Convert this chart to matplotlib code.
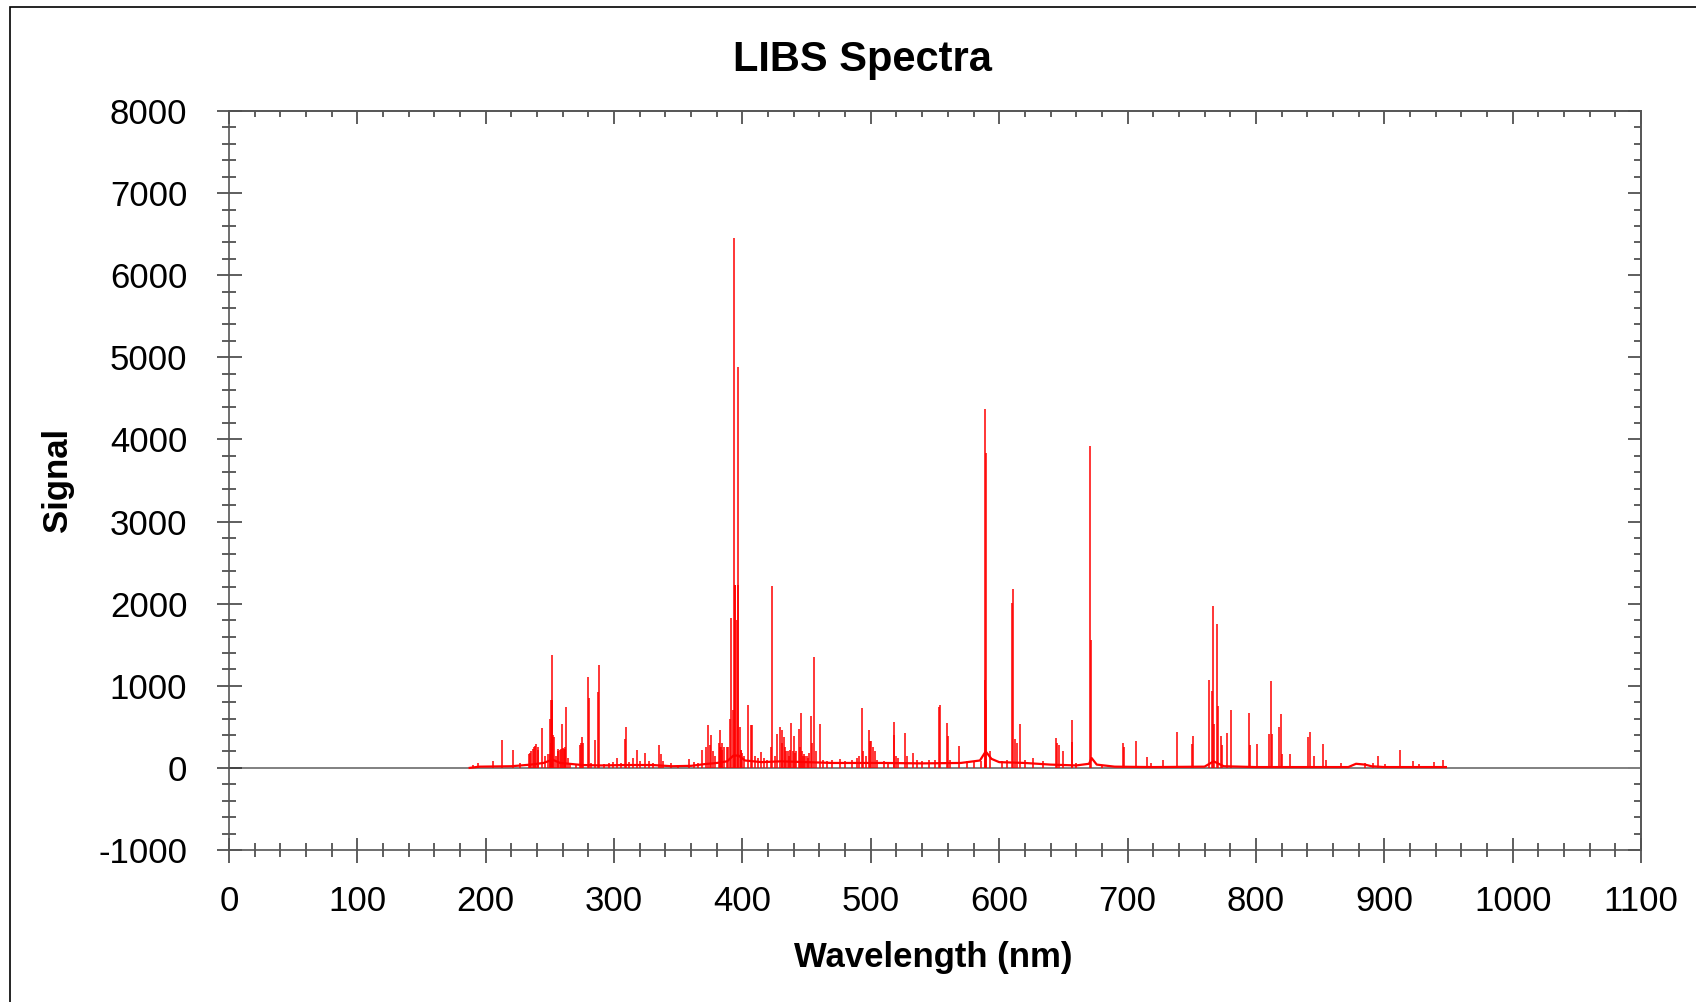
import numpy as np
import matplotlib
matplotlib.use('Agg')
import matplotlib.pyplot as plt
from matplotlib.ticker import MultipleLocator
from matplotlib.patches import Rectangle

plt.rcParams['font.family'] = ['Liberation Sans', 'DejaVu Sans']
plt.rcParams['axes.unicode_minus'] = False

# emission lines: wavelength (nm) and peak signal
uv_wl = [190.1, 194, 205.7, 212.5, 221.3, 226.5, 233.6, 234.3, 235, 236.8, 237.7, 238.5,
         239.5, 240.5, 241, 243.9, 246, 248.8, 249.9, 250.2, 250.7, 251.0, 251.5, 251.7,
         252.0, 252.4, 253.1, 255, 256.3, 256.5, 257.8, 258.5, 259.5, 260.2, 260.8, 261.5,
         262.0, 262.9, 264, 266, 270, 273.3, 274.0, 274.8, 275.6, 279.6, 280.3, 282,
         285.5, 287.8, 288.6, 292, 296, 299, 301.9, 305, 308.6, 309.4, 312, 314.8, 318,
         320, 324, 327, 330, 334.8, 336.3, 338, 344.1, 350, 358.1, 362, 365]
uv_signal = [32, 65, 80, 337, 215, 65, 175, 187, 200, 230, 256, 264,
             296, 250, 220, 491, 150, 175, 175, 600, 300, 832, 824, 1380,
             832, 400, 378, 150, 235, 200, 223, 235, 532, 240, 227, 235,
             250, 739, 120, 60, 50, 276, 300, 378, 305, 1104, 853, 60,
             337, 926, 1250, 50, 60, 70, 126, 60, 349, 499, 70, 126, 215,
             80, 179, 80, 60, 276, 166, 80, 65, 30, 114, 73, 60]

vis_wl = [368.6, 371.4, 373.2, 374.5, 375.3, 377, 379, 381.5, 382.3, 382.8, 383.4, 383.9,
          384.4, 386, 388, 389, 390.1, 390.9, 392.5, 393.4, 393.9, 394.5, 395.8, 396.2,
          396.9, 397.8, 398.5, 399.2, 399.5, 401.5, 404.4, 406.5, 407.5, 410, 412, 414.5,
          417, 419, 422.3, 422.7, 425, 427.3, 429.1, 430.7, 431, 432.2, 433, 434, 435.5,
          436, 437, 438.2, 439, 440.3, 441, 442, 443.7, 444.5, 445.5, 446.5, 447, 448,
          449, 450, 451, 452, 453.5, 454.5, 455.6, 457, 460.8, 462.5, 466, 470, 476, 480,
          485, 489, 491, 493.2, 494, 496, 498.2, 499.5, 500.5, 501.5, 503, 505, 510, 513,
          517.7, 518.2, 519.5, 521, 527.0, 528, 533, 536, 540, 545, 550, 553.5, 553.8,
          559.0, 559.8, 562, 568.8, 575, 580, 586, 588.6, 589.0, 589.4, 589.6, 592.6, 602,
          606, 610.1, 610.9, 612.4, 614, 616.3, 620, 626, 634, 644.4, 645.2, 646.3, 649.6,
          656.4, 656.8, 660, 670.6, 671.4, 680, 696.6, 697.2, 706.7, 714.8, 718, 727.8]
vis_signal = [215, 256, 520, 284, 406, 200, 150, 300, 467, 250, 256, 215,
              300, 256, 255, 255, 601, 1831, 700, 6450, 2225, 2225, 1807, 2225,
              4880, 500, 215, 215, 180, 150, 763, 520, 520, 150, 120, 195,
              120, 100, 256, 2217, 150, 418, 499, 459, 300, 378, 250, 200, 200,
              150, 220, 548, 200, 386, 180, 200, 475, 250, 674, 200, 150, 170,
              150, 150, 120, 180, 637, 300, 1352, 200, 532, 100, 80, 90, 114, 80,
              100, 120, 150, 726, 200, 150, 462, 330, 330, 250, 200, 100, 80, 60,
              400, 555, 150, 120, 429, 150, 186, 100, 80, 90, 100, 740, 766,
              543, 385, 100, 267, 80, 70, 80, 1071, 4368, 827, 3832, 200, 80,
              100, 2004, 2175, 348, 300, 531, 100, 120, 80, 368, 300, 280, 200,
              583, 320, 60, 3921, 1558, 40, 300, 250, 331, 130, 60, 93]

nir_wl = [738.6, 750.5, 751.1, 763.5, 765.7, 766.8, 767.6, 769.7, 770.5, 772.5, 773.3,
          777.5, 780.4, 794.7, 795.5, 801.2, 810.4, 811.5, 812.3, 818.3, 819.4, 820.5,
          826.7, 840.8, 842.4, 844.9, 852.5, 854.4, 866.6, 884.8, 891, 894.8, 900.3,
          912.4, 922.7, 927, 938.5, 946.1]
nir_signal = [438, 296, 394, 1067, 933, 1968, 536, 1757, 751, 385, 276,
              426, 710, 673, 276, 296, 418, 1054, 418, 499, 661, 174,
              174, 377, 438, 142, 288, 93, 60, 60, 60, 142, 50,
              215, 81, 45, 73, 93]

# continuum level under the lines
continuum_wl = [187.5, 195, 220, 235, 245, 252, 258, 265, 275, 290, 310, 330, 345, 360,
                370, 380, 388, 393, 397, 402, 415, 430, 450, 470, 490, 510, 540, 570,
                585, 589.5, 594, 600, 620, 640, 660, 670, 672, 676, 690, 720, 760, 767,
                775, 800, 850, 872, 878, 885, 890, 900, 948]
continuum_signal = [0, 15, 20, 40, 60, 100, 60, 50, 35, 30, 35, 35, 20, 25,
                    45, 60, 80, 150, 150, 90, 70, 80, 70, 60, 60, 60, 55, 60,
                    90, 200, 110, 70, 60, 40, 30, 50, 120, 40, 15, 10, 15, 80,
                    20, 10, 10, 10, 50, 40, 20, 10, 10]

peak_wl = np.array(uv_wl + vis_wl + nir_wl)
peak_signal = np.array(uv_signal + vis_signal + nir_signal)

W, H = 1696, 1002
fig = plt.figure(figsize=(W / 100, H / 100), dpi=100)
ax = fig.add_axes([229 / W, 1 - 850 / H, (1641 - 229) / W, (850 - 111) / H])

# zero line
ax.axhline(0, color='#808080', lw=1.4, zorder=1)

# spectrum
ax.vlines(peak_wl, 0, peak_signal, color='red', lw=1.1, zorder=2)
ax.plot(continuum_wl, continuum_signal, color='red', lw=1.6, zorder=2)

ax.set_xlim(0, 1100)
ax.set_ylim(-1000, 8000)

spine_col = '#555555'
for s in ax.spines.values():
    s.set_color(spine_col)
    s.set_linewidth(1.2)

ax.xaxis.set_major_locator(MultipleLocator(100))
ax.xaxis.set_minor_locator(MultipleLocator(20))
ax.yaxis.set_major_locator(MultipleLocator(1000))
ax.yaxis.set_minor_locator(MultipleLocator(200))
ax.tick_params(which='both', direction='inout', top=False, right=False,
               color='#333333', width=1.1, labelsize=25)
ax.tick_params(which='major', length=18)
ax.tick_params(which='minor', length=9.5)
ax.tick_params(axis='x', pad=16)
ax.tick_params(axis='y', pad=21)

# inward ticks on top and right
top = ax.secondary_xaxis('top')
top.xaxis.set_major_locator(MultipleLocator(100))
top.xaxis.set_minor_locator(MultipleLocator(20))
top.tick_params(which='both', direction='in', labeltop=False, color='#333333', width=1.1)
top.tick_params(which='major', length=9)
top.tick_params(which='minor', length=4.5)
right = ax.secondary_yaxis('right')
right.yaxis.set_major_locator(MultipleLocator(1000))
right.yaxis.set_minor_locator(MultipleLocator(200))
right.tick_params(which='both', direction='in', labelright=False, color='#333333', width=1.1)
right.tick_params(which='major', length=9.5)
right.tick_params(which='minor', length=5)
for sec in (top, right):
    for s in sec.spines.values():
        s.set_color(spine_col)
        s.set_linewidth(1.2)

fig.text(862 / W, 1 - 70.7 / H, 'LIBS Spectra', ha='center', va='baseline',
         fontsize=30, fontweight='bold')
fig.text(933 / W, 1 - 966.7 / H, 'Wavelength (nm)', ha='center', va='baseline',
         fontsize=25, fontweight='bold')
fig.text(67 / W, 1 - 480 / H, 'Signal', rotation=90, rotation_mode='anchor',
         ha='center', va='baseline', fontsize=25, fontweight='bold')

# outer frame, cut off by the image edge on the right and bottom
fig.add_artist(Rectangle((10 / W, -0.1), 1.2, 1 - 7 / H + 0.1, transform=fig.transFigure,
                         fill=False, edgecolor='black', lw=1.2))

fig.savefig('out.png', dpi=100)
